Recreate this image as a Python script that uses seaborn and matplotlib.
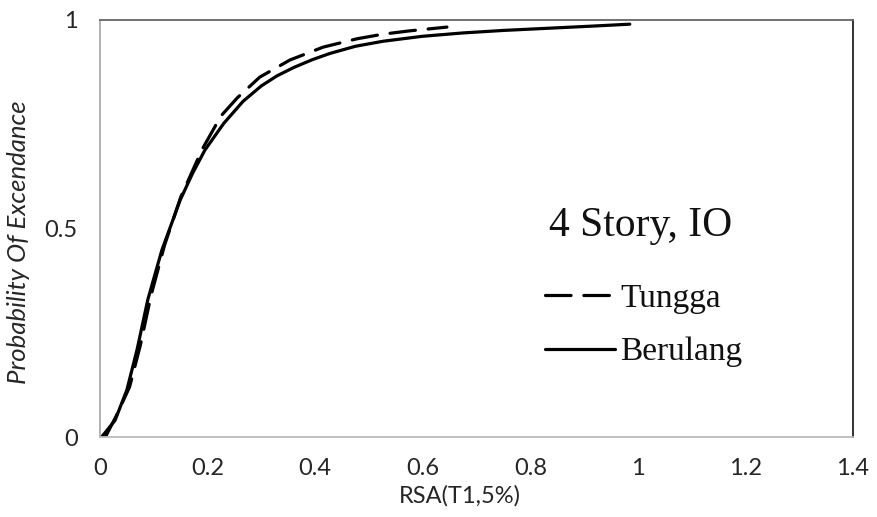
import numpy as np
import pandas as pd
import matplotlib
matplotlib.use("Agg")
import matplotlib.pyplot as plt
import seaborn as sns

# Fragility curves: probability of exceedance vs spectral acceleration
rsa_tungga = [0.01, 0.03, 0.055, 0.075, 0.095, 0.12, 0.15, 0.19, 0.225, 0.255,
              0.297, 0.353, 0.415, 0.478, 0.526, 0.576, 0.645]
poe_tungga = [0.0, 0.05, 0.12, 0.22, 0.34, 0.46, 0.575, 0.69, 0.77, 0.813,
              0.863, 0.904, 0.935, 0.955, 0.966, 0.974, 0.983]

rsa_berulang = [0.003, 0.028, 0.05, 0.069, 0.089, 0.115, 0.149, 0.172, 0.195,
                0.23, 0.266, 0.3, 0.329, 0.36, 0.395, 0.428, 0.475, 0.526,
                0.6, 0.675, 0.75, 0.83, 0.91, 0.985]
poe_berulang = [0.0, 0.04, 0.113, 0.21, 0.33, 0.448, 0.568, 0.632, 0.688,
                0.752, 0.805, 0.842, 0.866, 0.886, 0.905, 0.92, 0.937, 0.949,
                0.961, 0.969, 0.975, 0.980, 0.985, 0.99]

series_names = ["Tungga", "Berulang"]
x_ticks = [0, 0.2, 0.4, 0.6, 0.8, 1, 1.2, 1.4]
x_tick_labels = ["0", "0.2", "0.4", "0.6", "0.8", "1", "1.2", "1.4"]
y_ticks = [0, 0.5, 1]
y_tick_labels = ["0", "0.5", "1"]

df = pd.concat([
    pd.DataFrame({"RSA": rsa_tungga, "PoE": poe_tungga, "Model": series_names[0]}),
    pd.DataFrame({"RSA": rsa_berulang, "PoE": poe_berulang, "Model": series_names[1]}),
], ignore_index=True)

sns.set_style("white")
sans = ["Lato", "DejaVu Sans"]
serif = ["Liberation Serif", "DejaVu Serif"]
plt.rcParams["font.family"] = sans

fig = plt.figure(figsize=(8.77, 5.17), dpi=100)
ax = fig.add_axes([100 / 877, 80 / 517, 753 / 877, 417 / 517])

sns.lineplot(data=df, x="RSA", y="PoE", style="Model", style_order=series_names,
             dashes={"Tungga": (8, 4), "Berulang": ""}, color="black",
             linewidth=2.3, estimator=None, sort=False, ax=ax, legend=False)
for ln in ax.lines:
    ln.set_solid_capstyle("round")
    ln.set_dash_capstyle("round")
    ln.set_solid_joinstyle("round")

ax.set_xlim(0, 1.4)
ax.set_ylim(0, 1)
ax.set_xticks(x_ticks)
ax.set_xticklabels(x_tick_labels)
ax.set_yticks(y_ticks)
ax.set_yticklabels(y_tick_labels)
ax.tick_params(axis="both", length=0, labelsize=17, colors="#262626")
ax.tick_params(axis="x", pad=15)
ax.tick_params(axis="y", pad=16)

ax.set_xlabel("RSA(T1,5%)", fontsize=17, color="#262626")
ax.xaxis.set_label_coords((460 - 100) / 753, -0.115)
ax.set_ylabel("Probability Of Excendance", fontsize=18.5, fontstyle="italic",
              color="#262626")
ax.yaxis.set_label_coords(-(100 - 30) / 753, 0.467)

spine_colors = {"top": "#666666", "right": "#222222", "bottom": "#bbbbbb", "left": "#aaaaaa"}
for side, col in spine_colors.items():
    ax.spines[side].set_visible(True)
    ax.spines[side].set_color(col)
    ax.spines[side].set_linewidth(1.3)

ax.text((549 - 100) / 753, (437 - 226) / 417, "4 Story, IO", transform=ax.transAxes,
        family=serif, fontsize=30, ha="left", va="center", color="#111111")

handles = ax.lines[:2]
leg = ax.legend(handles, series_names, loc="upper left",
                bbox_to_anchor=((545 - 100) / 753, (437 - 283) / 417),
                frameon=False, handlelength=2.1, handletextpad=0.15,
                labelspacing=0.7, borderaxespad=0, borderpad=0,
                prop={"family": serif, "size": 24})
for t in leg.get_texts():
    t.set_color("#111111")

fig.savefig("out.png", dpi=100)
